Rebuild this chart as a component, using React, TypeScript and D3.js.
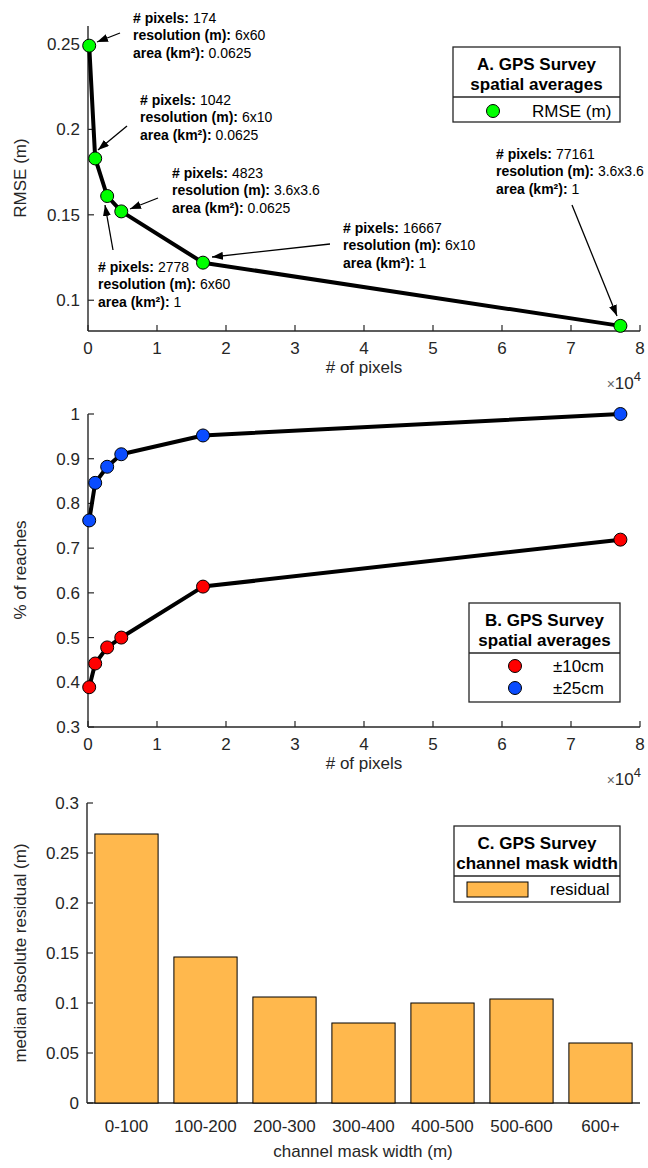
import React from "react";
import * as d3 from "d3";

// panel A / B data
const pixels = [174, 1042, 2778, 4823, 16667, 77161];
const rmse = [0.249, 0.183, 0.161, 0.152, 0.122, 0.085];
const resolutions = ["6x60", "6x10", "6x60", "3.6x3.6", "6x10", "3.6x3.6"];
const areas = ["0.0625", "0.0625", "1", "0.0625", "1", "1"];
const within10 = [0.389, 0.442, 0.478, 0.5, 0.614, 0.719];
const within25 = [0.762, 0.846, 0.882, 0.91, 0.952, 1.0];

// panel C data
const widthBins = ["0-100", "100-200", "200-300", "300-400", "400-500", "500-600", "600+"];
const residual = [0.269, 0.146, 0.106, 0.08, 0.1, 0.104, 0.06];

const xTicks = [0, 1, 2, 3, 4, 5, 6, 7, 8];
const yTicksA = [0.1, 0.15, 0.2, 0.25];
const yTicksB = [0.3, 0.4, 0.5, 0.6, 0.7, 0.8, 0.9, 1];
const yTicksC = [0, 0.05, 0.1, 0.15, 0.2, 0.25, 0.3];

// annotation placement (text origin, arrow tail -> head), in pixels
const annoLayout = [
  { tx: 133, ty: 18, x1: 120, y1: 33, x2: 97, y2: 42 },
  { tx: 140, ty: 100, x1: 127, y1: 126, x2: 98, y2: 150 },
  { tx: 98, ty: 267, x1: 113, y1: 250, x2: 105, y2: 205 },
  { tx: 172, ty: 173, x1: 158, y1: 198, x2: 130, y2: 209 },
  { tx: 343, ty: 228, x1: 330, y1: 244, x2: 212, y2: 257 },
  { tx: 496, ty: 154, x1: 572, y1: 205, x2: 617, y2: 316 },
];

const FONT = "'Liberation Sans', Arial, Helvetica, sans-serif";
const AX = "#262626";
const FS = 17;

const xA = d3.scaleLinear().domain([0, 80000]).range([88, 640]);
const yA = d3.scaleLinear().domain([0.082, 0.2605]).range([331, 26]);
const xB = d3.scaleLinear().domain([0, 80000]).range([88, 640]);
const yB = d3.scaleLinear().domain([0.3, 1]).range([727, 414]);
const xC = d3.scaleBand<string>().domain(widthBins).range([87, 640]).paddingInner(0.2).paddingOuter(0.1);
const yC = d3.scaleLinear().domain([0, 0.3]).range([1103, 803]);

const fmt = (v: number) => String(+v.toFixed(2));

function YAxis({ scale, ticks, x }: any) {
  const [r0, r1] = scale.range();
  return (
    <g>
      <line x1={x} x2={x} y1={r0} y2={r1} stroke={AX} strokeWidth={1.4} />
      {ticks.map((t: number) => (
        <g key={t}>
          <line x1={x} x2={x + 6} y1={scale(t)} y2={scale(t)} stroke={AX} strokeWidth={1.2} />
          <text x={x - 8} y={scale(t)} dy="0.35em" textAnchor="end" fontSize={FS} fill={AX}>
            {fmt(t)}
          </text>
        </g>
      ))}
    </g>
  );
}

function XAxisLinear({ scale, y, label }: any) {
  const [r0, r1] = scale.range();
  return (
    <g>
      <line x1={r0} x2={r1} y1={y} y2={y} stroke={AX} strokeWidth={1.4} />
      {xTicks.map((t) => (
        <g key={t}>
          <line x1={scale(t * 1e4)} x2={scale(t * 1e4)} y1={y} y2={y - 6} stroke={AX} strokeWidth={1.2} />
          <text x={scale(t * 1e4)} y={y + 17} dy="0.35em" textAnchor="middle" fontSize={FS} fill={AX}>
            {t}
          </text>
        </g>
      ))}
      <text x={(r0 + r1) / 2} y={y + 36} dy="0.35em" textAnchor="middle" fontSize={FS} fill={AX}>
        {label}
      </text>
      <text x={r1 + 1} y={y + 52} dy="0.35em" textAnchor="end" fontSize={FS} fill={AX}>
        <tspan fontSize={14} fill="#666">×</tspan>10
        <tspan dy={-8} fontSize={13}>4</tspan>
      </text>
    </g>
  );
}

function YLabel({ x, y, text }: any) {
  return (
    <text transform={`translate(${x},${y}) rotate(-90)`} textAnchor="middle" fontSize={FS} fill={AX}>
      {text}
    </text>
  );
}

function Legend({ x, y, w, h, title }: any) {
  return (
    <g>
      <rect x={x} y={y} width={w} height={h} fill="white" stroke={AX} strokeWidth={1.3} />
      <text x={x + w / 2} y={y + 17} dy="0.35em" textAnchor="middle" fontSize={FS} fontWeight="bold" fill="#000">
        {title[0]}
      </text>
      <text x={x + w / 2} y={y + 37} dy="0.35em" textAnchor="middle" fontSize={FS} fontWeight="bold" fill="#000">
        {title[1]}
      </text>
      <line x1={x} x2={x + w} y1={y + 50} y2={y + 50} stroke={AX} strokeWidth={1.3} />
    </g>
  );
}

function Dot({ cx, cy, fill }: any) {
  return <circle cx={cx} cy={cy} r={6.5} fill={fill} stroke="#000" strokeWidth={1} />;
}

export default function App() {
  const lineA = d3.line<number>().x((_, i) => xA(pixels[i])).y((d) => yA(d));
  const lineB = d3.line<number>().x((_, i) => xB(pixels[i])).y((d) => yB(d));

  return (
    <div style={{ position: "absolute", left: 0, top: 0 }}>
      <svg width={648} height={1168} fontFamily={FONT} style={{ display: "block", background: "#fff" }}>
        <defs>
          <marker id="ah" markerUnits="userSpaceOnUse" markerWidth={11} markerHeight={8} refX={11} refY={4} orient="auto">
            <path d="M0,0 L11,4 L0,8 z" fill="#000" />
          </marker>
        </defs>

        {/* Panel A */}
        <YAxis scale={yA} ticks={yTicksA} x={88} />
        <XAxisLinear scale={xA} y={331} label="# of pixels" />
        <YLabel x={26} y={178} text="RMSE (m)" />
        <path d={lineA(rmse) || ""} fill="none" stroke="#000" strokeWidth={4} strokeLinejoin="round" />
        {rmse.map((v, i) => (
          <Dot key={i} cx={xA(pixels[i])} cy={yA(v)} fill="#00ff00" />
        ))}
        {annoLayout.map((a, i) => (
          <g key={i}>
            <line x1={a.x1} y1={a.y1} x2={a.x2} y2={a.y2} stroke="#000" strokeWidth={1.3} markerEnd="url(#ah)" />
            <text x={a.tx} y={a.ty} dy="0.35em" fontSize={14} fill="#000">
              <tspan fontWeight="bold"># pixels:</tspan> {pixels[i]}
            </text>
            <text x={a.tx} y={a.ty + 17.5} dy="0.35em" fontSize={14} fill="#000">
              <tspan fontWeight="bold">resolution (m):</tspan> {resolutions[i]}
            </text>
            <text x={a.tx} y={a.ty + 35} dy="0.35em" fontSize={14} fill="#000">
              <tspan fontWeight="bold">area (km²):</tspan> {areas[i]}
            </text>
          </g>
        ))}
        <Legend x={453} y={47} w={167} h={75} title={["A. GPS Survey", "spatial averages"]} />
        <Dot cx={493} cy={111} fill="#00ff00" />
        <text x={532} y={111} dy="0.35em" fontSize={FS} fill="#000">RMSE (m)</text>

        {/* Panel B */}
        <YAxis scale={yB} ticks={yTicksB} x={88} />
        <XAxisLinear scale={xB} y={727} label="# of pixels" />
        <YLabel x={26} y={570} text="% of reaches" />
        <path d={lineB(within25) || ""} fill="none" stroke="#000" strokeWidth={4} strokeLinejoin="round" />
        <path d={lineB(within10) || ""} fill="none" stroke="#000" strokeWidth={4} strokeLinejoin="round" />
        {within25.map((v, i) => (
          <Dot key={"b" + i} cx={xB(pixels[i])} cy={yB(v)} fill="#0a4cff" />
        ))}
        {within10.map((v, i) => (
          <Dot key={"r" + i} cx={xB(pixels[i])} cy={yB(v)} fill="#ff0000" />
        ))}
        <Legend x={469} y={603} w={151} h={99} title={["B. GPS Survey", "spatial averages"]} />
        <Dot cx={515} cy={666} fill="#ff0000" />
        <text x={553} y={666} dy="0.35em" fontSize={FS} fill="#000">±10cm</text>
        <Dot cx={515} cy={688} fill="#0a4cff" />
        <text x={553} y={688} dy="0.35em" fontSize={FS} fill="#000">±25cm</text>

        {/* Panel C */}
        <g>
          <line x1={87} x2={640} y1={1103} y2={1103} stroke={AX} strokeWidth={1.4} />
          {widthBins.map((b) => (
            <g key={b}>
              <line x1={xC(b)! + xC.bandwidth() / 2} x2={xC(b)! + xC.bandwidth() / 2} y1={1103} y2={1097} stroke="#bbb" strokeWidth={1} />
              <text x={xC(b)! + xC.bandwidth() / 2} y={1126} dy="0.35em" textAnchor="middle" fontSize={FS} fill={AX}>
                {b}
              </text>
            </g>
          ))}
          <text x={363} y={1151} dy="0.35em" textAnchor="middle" fontSize={FS} fill={AX}>
            channel mask width (m)
          </text>
        </g>
        <YAxis scale={yC} ticks={yTicksC} x={87} />
        <YLabel x={26} y={953} text="median absolute residual (m)" />
        {residual.map((v, i) => (
          <rect
            key={i}
            x={xC(widthBins[i])}
            y={yC(v)}
            width={xC.bandwidth()}
            height={yC(0) - yC(v)}
            fill="#ffb84d"
            stroke="#000"
            strokeWidth={1}
          />
        ))}
        <Legend x={454} y={826} w={166} h={76} title={["C. GPS Survey", "channel mask width"]} />
        <rect x={467} y={882} width={61} height={15} fill="#ffb84d" stroke="#000" strokeWidth={1} />
        <text x={550} y={889} dy="0.35em" fontSize={FS} fill="#000">residual</text>
      </svg>
    </div>
  );
}
